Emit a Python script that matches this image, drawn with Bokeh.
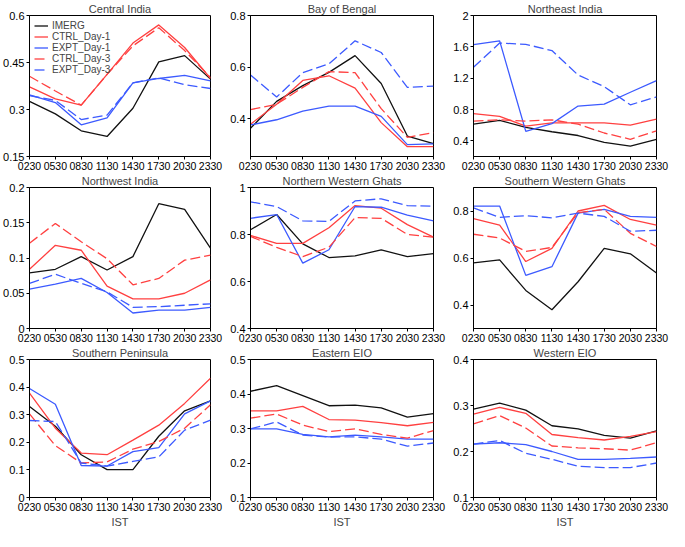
from bokeh.plotting import figure
from bokeh.layouts import gridplot
from bokeh.models import Range1d, FixedTicker
from bokeh.embed import file_html
from bokeh.resources import INLINE

TIMES = ["0230", "0530", "0830", "1130", "1430", "1730", "2030", "2330"]
X = list(range(len(TIMES)))
SERIES = ["IMERG", "CTRL_Day-1", "EXPT_Day-1", "CTRL_Day-3", "EXPT_Day-3"]

# Central India
CI_IMERG = [0.326, 0.286, 0.232, 0.214, 0.304, 0.452, 0.472, 0.397]
CI_CTRL1 = [0.372, 0.334, 0.314, 0.412, 0.512, 0.570, 0.498, 0.399]
CI_EXPT1 = [0.347, 0.322, 0.251, 0.273, 0.385, 0.399, 0.409, 0.391]
CI_CTRL3 = [0.406, 0.359, 0.314, 0.412, 0.503, 0.561, 0.488, 0.402]
CI_EXPT3 = [0.344, 0.329, 0.268, 0.282, 0.385, 0.401, 0.379, 0.367]
CI_YTICKS = [0.15, 0.3, 0.45, 0.6]
CI_YLABELS = ["0.15", "0.3", "0.45", "0.6"]

# Bay of Bengal
BB_IMERG = [0.364, 0.468, 0.529, 0.580, 0.645, 0.537, 0.334, 0.305]
BB_CTRL1 = [0.380, 0.457, 0.549, 0.567, 0.519, 0.386, 0.293, 0.293]
BB_EXPT1 = [0.377, 0.397, 0.430, 0.450, 0.450, 0.410, 0.301, 0.304]
BB_CTRL3 = [0.436, 0.457, 0.522, 0.583, 0.579, 0.440, 0.329, 0.347]
BB_EXPT3 = [0.570, 0.485, 0.579, 0.613, 0.702, 0.657, 0.522, 0.527]
BB_YTICKS = [0.4, 0.6, 0.8]
BB_YLABELS = ["0.4", "0.6", "0.8"]

# Northeast India
NE_IMERG = [0.612, 0.660, 0.572, 0.516, 0.468, 0.380, 0.332, 0.420]
NE_CTRL1 = [0.748, 0.712, 0.588, 0.628, 0.628, 0.628, 0.600, 0.676]
NE_EXPT1 = [1.628, 1.676, 0.520, 0.620, 0.844, 0.868, 1.020, 1.168]
NE_CTRL3 = [0.652, 0.668, 0.652, 0.668, 0.612, 0.500, 0.420, 0.528]
NE_EXPT3 = [1.340, 1.648, 1.632, 1.552, 1.240, 1.092, 0.860, 0.960]
NE_YTICKS = [0.4, 0.8, 1.2, 1.6, 2.0]
NE_YLABELS = ["0.4", "0.8", "1.2", "1.6", "2"]

# Northwest India
NW_IMERG = [0.079, 0.084, 0.102, 0.083, 0.102, 0.177, 0.169, 0.114]
NW_CTRL1 = [0.084, 0.118, 0.111, 0.060, 0.042, 0.042, 0.050, 0.069]
NW_EXPT1 = [0.056, 0.063, 0.071, 0.051, 0.022, 0.026, 0.026, 0.030]
NW_CTRL3 = [0.121, 0.149, 0.123, 0.099, 0.062, 0.071, 0.097, 0.104]
NW_EXPT3 = [0.064, 0.077, 0.064, 0.052, 0.030, 0.031, 0.033, 0.035]
NW_YTICKS = [0.0, 0.05, 0.1, 0.15, 0.2]
NW_YLABELS = ["0", "0.05", "0.1", "0.15", "0.2"]

# Northern Western Ghats
NWG_IMERG = [0.820, 0.885, 0.760, 0.702, 0.709, 0.735, 0.706, 0.719]
NWG_CTRL1 = [0.796, 0.762, 0.762, 0.829, 0.923, 0.912, 0.842, 0.789]
NWG_EXPT1 = [0.869, 0.885, 0.678, 0.735, 0.919, 0.916, 0.882, 0.858]
NWG_CTRL3 = [0.792, 0.745, 0.706, 0.746, 0.872, 0.869, 0.800, 0.789]
NWG_EXPT3 = [0.939, 0.919, 0.858, 0.856, 0.943, 0.952, 0.923, 0.920]
NWG_YTICKS = [0.4, 0.6, 0.8, 1.0]
NWG_YLABELS = ["0.4", "0.6", "0.8", "1"]

# Southern Western Ghats
SWG_IMERG = [0.579, 0.592, 0.462, 0.380, 0.499, 0.641, 0.618, 0.536]
SWG_CTRL1 = [0.768, 0.740, 0.585, 0.641, 0.800, 0.824, 0.764, 0.740]
SWG_EXPT1 = [0.821, 0.821, 0.526, 0.563, 0.791, 0.807, 0.777, 0.773]
SWG_CTRL3 = [0.701, 0.685, 0.628, 0.645, 0.793, 0.807, 0.705, 0.649]
SWG_EXPT3 = [0.813, 0.773, 0.780, 0.771, 0.791, 0.777, 0.714, 0.718]
SWG_YTICKS = [0.4, 0.6, 0.8]
SWG_YLABELS = ["0.4", "0.6", "0.8"]

# Southern Peninsula
SP_IMERG = [0.330, 0.258, 0.155, 0.101, 0.101, 0.222, 0.314, 0.350]
SP_CTRL1 = [0.378, 0.251, 0.161, 0.155, 0.208, 0.262, 0.341, 0.432]
SP_EXPT1 = [0.395, 0.338, 0.116, 0.114, 0.166, 0.181, 0.303, 0.350]
SP_CTRL3 = [0.303, 0.188, 0.125, 0.129, 0.175, 0.203, 0.251, 0.336]
SP_EXPT3 = [0.279, 0.275, 0.125, 0.114, 0.131, 0.147, 0.244, 0.280]
SP_YTICKS = [0.0, 0.1, 0.2, 0.3, 0.4, 0.5]
SP_YLABELS = ["0", "0.1", "0.2", "0.3", "0.4", "0.5"]

# Eastern EIO
EE_IMERG = [0.408, 0.424, 0.395, 0.366, 0.368, 0.360, 0.333, 0.343]
EE_CTRL1 = [0.351, 0.351, 0.364, 0.326, 0.324, 0.317, 0.308, 0.318]
EE_EXPT1 = [0.299, 0.299, 0.283, 0.276, 0.281, 0.276, 0.269, 0.269]
EE_CTRL3 = [0.330, 0.342, 0.310, 0.291, 0.299, 0.283, 0.272, 0.294]
EE_EXPT3 = [0.299, 0.319, 0.281, 0.275, 0.276, 0.269, 0.249, 0.258]
EE_YTICKS = [0.1, 0.2, 0.3, 0.4, 0.5]
EE_YLABELS = ["0.1", "0.2", "0.3", "0.4", "0.5"]

# Western EIO
WE_IMERG = [0.292, 0.305, 0.290, 0.256, 0.249, 0.235, 0.229, 0.245]
WE_CTRL1 = [0.281, 0.296, 0.283, 0.237, 0.230, 0.225, 0.233, 0.243]
WE_EXPT1 = [0.216, 0.219, 0.215, 0.200, 0.183, 0.183, 0.185, 0.188]
WE_CTRL3 = [0.260, 0.278, 0.251, 0.212, 0.208, 0.206, 0.203, 0.219]
WE_EXPT3 = [0.216, 0.224, 0.196, 0.183, 0.168, 0.165, 0.165, 0.175]
WE_YTICKS = [0.1, 0.2, 0.3, 0.4]
WE_YLABELS = ["0.1", "0.2", "0.3", "0.4"]

PANELS = [
    ("Central India", 0.15, 0.6, CI_YTICKS, CI_YLABELS, [CI_IMERG, CI_CTRL1, CI_EXPT1, CI_CTRL3, CI_EXPT3]),
    ("Bay of Bengal", 0.255, 0.8, BB_YTICKS, BB_YLABELS, [BB_IMERG, BB_CTRL1, BB_EXPT1, BB_CTRL3, BB_EXPT3]),
    ("Northeast India", 0.2, 2.0, NE_YTICKS, NE_YLABELS, [NE_IMERG, NE_CTRL1, NE_EXPT1, NE_CTRL3, NE_EXPT3]),
    ("Northwest India", 0.0, 0.2, NW_YTICKS, NW_YLABELS, [NW_IMERG, NW_CTRL1, NW_EXPT1, NW_CTRL3, NW_EXPT3]),
    ("Northern Western Ghats", 0.4, 1.0, NWG_YTICKS, NWG_YLABELS, [NWG_IMERG, NWG_CTRL1, NWG_EXPT1, NWG_CTRL3, NWG_EXPT3]),
    ("Southern Western Ghats", 0.3, 0.9, SWG_YTICKS, SWG_YLABELS, [SWG_IMERG, SWG_CTRL1, SWG_EXPT1, SWG_CTRL3, SWG_EXPT3]),
    ("Southern Peninsula", 0.0, 0.5, SP_YTICKS, SP_YLABELS, [SP_IMERG, SP_CTRL1, SP_EXPT1, SP_CTRL3, SP_EXPT3]),
    ("Eastern EIO", 0.1, 0.5, EE_YTICKS, EE_YLABELS, [EE_IMERG, EE_CTRL1, EE_EXPT1, EE_CTRL3, EE_EXPT3]),
    ("Western EIO", 0.1, 0.4, WE_YTICKS, WE_YLABELS, [WE_IMERG, WE_CTRL1, WE_EXPT1, WE_CTRL3, WE_EXPT3]),
]

COLORS = ["#111111", "#ff4040", "#3c5aff", "#ff4040", "#3c5aff"]
DASHES = ["solid", "solid", "solid", "10 4", "10 4"]
FONT = "Liberation Sans"


def make_panel(idx, title, ylo, yhi, yticks, ylabels, data):
    bottom_row = idx >= 6
    p = figure(
        width=223, height=186 if bottom_row else 172,
        x_range=Range1d(0, len(TIMES) - 1), y_range=Range1d(ylo, yhi),
        output_backend="svg", toolbar_location=None, title=title,
        min_border_left=27, min_border_right=13, min_border_top=13,
        min_border_bottom=30 if bottom_row else 16,
    )
    p.title.align = "center"
    p.title.text_font = FONT
    p.title.text_font_size = "11px"
    p.title.text_font_style = "normal"
    p.title.standoff = 1
    p.xgrid.visible = False
    p.ygrid.visible = False
    p.outline_line_color = "black"
    p.outline_line_alpha = 1
    p.background_fill_color = "white"
    p.border_fill_color = "white"

    for ax in (p.xaxis[0], p.yaxis[0]):
        ax.axis_line_color = "black"
        ax.major_tick_line_color = "black"
        ax.major_tick_out = 3
        ax.major_tick_in = 0
        ax.minor_tick_line_color = None
        ax.major_label_standoff = 2
        ax.major_label_text_font = FONT
        ax.major_label_text_color = "black"
    p.xaxis.major_label_text_font_size = "10.5px"
    p.yaxis.major_label_text_font_size = "11px"

    p.xaxis.ticker = FixedTicker(ticks=X)
    p.xaxis.major_label_overrides = {i: t for i, t in zip(X, TIMES)}
    p.yaxis.ticker = FixedTicker(ticks=yticks)
    p.yaxis.major_label_overrides = {t: l for t, l in zip(yticks, ylabels)}

    if bottom_row:
        p.xaxis.axis_label = "IST"
        p.xaxis.axis_label_text_font = FONT
        p.xaxis.axis_label_text_font_size = "11px"
        p.xaxis.axis_label_text_font_style = "normal"
        p.xaxis.axis_label_standoff = 2

    for name, ys, c, d in zip(SERIES, data, COLORS, DASHES):
        kw = dict(line_color=c, line_width=1.3, line_dash=d)
        if idx == 0:
            kw["legend_label"] = name
        p.line(X, ys, **kw)

    if idx == 0:
        lg = p.legend[0]
        lg.location = "top_left"
        lg.border_line_color = None
        lg.background_fill_alpha = 0
        lg.label_text_font = FONT
        lg.label_text_font_size = "10px"
        lg.label_height = 11
        lg.glyph_height = 11
        lg.glyph_width = 14
        lg.spacing = 0
        lg.padding = 2
        lg.margin = 5
        lg.label_standoff = 4
    return p


figs = [make_panel(i, *pn) for i, pn in enumerate(PANELS)]
grid = gridplot(figs, ncols=3, toolbar_location=None)

open("out.html", "w").write(file_html(grid, INLINE))
